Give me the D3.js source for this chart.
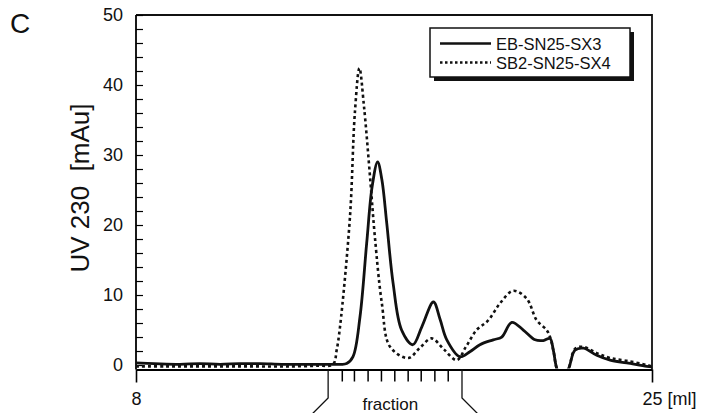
<!DOCTYPE html>
<html>
<head>
<meta charset="utf-8">
<script src="https://cdn.jsdelivr.net/npm/d3@7"></script>
<style>
  body { margin: 0; background: #fff; }
  text { font-family: "Liberation Sans", Arial, sans-serif; fill: #111; }
</style>
</head>
<body>
<svg class="svg"></svg>
<script>
// elution volume [ml]
let ebVolume = [8.0, 8.6, 9.45, 10.1, 10.77, 11.4, 12.09, 12.8, 13.4, 14.0, 14.72, 14.94, 15.15, 15.38, 15.6, 15.78, 15.96, 16.1, 16.26, 16.47, 16.75, 17.12, 17.42, 17.8, 18.02, 18.24, 18.67, 19.0, 19.33, 19.77, 20.05, 20.38, 20.76, 21.15, 21.42, 21.64, 21.75, 21.88, 22.03, 22.24, 22.46, 22.74, 23.18, 23.62, 24.17, 24.83, 25.0]
let ebUV = [0.3, 0.2, 0.1, 0.2, 0.1, 0.2, 0.2, 0.1, 0.1, 0.1, 0.1, 0.2, 1.2, 6.9, 17.4, 25.5, 29.0, 26.5, 20.3, 11.7, 5.0, 2.9, 5.5, 9.0, 6.5, 3.6, 1.2, 1.9, 2.9, 3.6, 4.0, 6.1, 5.0, 3.6, 3.5, 3.8, 2.1, -0.7, -1.5, -0.6, 2.1, 2.4, 1.4, 0.7, 0.3, -0.2, -0.3]

let sbVolume = [8.0, 9.0, 10.0, 11.0, 12.0, 13.0, 14.0, 14.49, 14.61, 14.72, 15.05, 15.21, 15.36, 15.51, 15.71, 15.87, 16.1, 16.37, 16.97, 17.36, 17.74, 18.15, 18.57, 18.87, 19.22, 19.61, 19.99, 20.43, 20.87, 21.2, 21.53, 21.64, 21.75, 21.88, 22.03, 22.24, 22.46, 22.74, 23.18, 23.62, 24.17, 24.83, 25.0]
let sbUV = [-0.2, -0.2, -0.2, -0.2, -0.2, -0.2, -0.1, 0.1, 2.1, 5.4, 21.2, 36.0, 42.4, 37.0, 26.9, 18.3, 8.8, 2.6, 1.0, 2.5, 3.8, 2.2, 0.7, 2.6, 5.0, 6.4, 8.8, 10.6, 9.5, 6.4, 5.0, 4.0, 2.1, -0.7, -1.5, -0.6, 2.3, 2.6, 1.7, 1.0, 0.6, 0.0, -0.2]

let seriesNames = ["EB-SN25-SX3", "SB2-SN25-SX4"]
let yTicks = [0, 10, 20, 30, 40, 50]
let xTicks = [8, 25]
let fractionTicks = [14.78, 15.18, 15.63, 16.07, 16.51, 16.95, 17.38, 17.83, 18.27]
let fractionBracket = [14.33, 18.74]

let drawChart = () => {
    let svg = d3.select(".svg").attr("width", 708).attr("height", 413)

    let x = d3.scaleLinear().domain([8, 25]).range([136, 652])
    let y = d3.scaleLinear().domain([-0.64, 50]).range([369.5, 15])
    let axisY = y(-0.64)

    svg.append("clipPath").attr("id", "plotclip")
        .append("rect")
        .attr("x", x(8)).attr("y", y(50))
        .attr("width", x(25) - x(8)).attr("height", axisY - y(50) - 1)

    // top and right frame
    svg.append("path")
        .attr("d", `M${x(8)},${y(50)}H${x(25)}V${axisY}`)
        .attr("fill", "none").attr("stroke", "#111").attr("stroke-width", 1.8)

    // y axis, ticks inside
    let yAxis = d3.axisLeft(y)
        .tickValues(d3.range(0, 51, 2))
        .tickSize(-7)
        .tickSizeOuter(0)
        .tickPadding(13)
        .tickFormat(d => yTicks.includes(d) ? d : "")
    let gy = svg.append("g").attr("transform", `translate(${x(8)},0)`).call(yAxis)
    gy.select(".domain").attr("d", `M0,${y(50)}V${axisY}`).attr("stroke-width", 1.8)
    gy.selectAll("line").attr("stroke-width", 1.2)
    gy.selectAll("text").style("font-size", "18px").attr("font-family", null)

    // x axis
    let xAxis = d3.axisBottom(x)
        .tickValues(xTicks)
        .tickSize(13)
        .tickSizeOuter(0)
        .tickPadding(10)
        .tickFormat(d => d === 25 ? "25 [ml]" : d)
    let gx = svg.append("g").attr("transform", `translate(0,${axisY})`).call(xAxis)
    gx.select(".domain").attr("stroke-width", 1.8)
    gx.selectAll("line").attr("stroke-width", 1.6)
    gx.selectAll("text").style("font-size", "18px").attr("font-family", null)
        .filter(d => d === 25).attr("text-anchor", "start").attr("dx", -10)

    // fraction ticks and bracket
    let fAxis = d3.axisBottom(x).tickValues(fractionTicks).tickSize(12).tickFormat("")
    let gf = svg.append("g").attr("transform", `translate(0,${axisY})`).call(fAxis)
    gf.select(".domain").remove()
    gf.selectAll("line").attr("stroke-width", 1.5)

    let bracket = d3.line()
    svg.append("path")
        .attr("d", bracket([[x(fractionBracket[0]), axisY], [x(fractionBracket[0]), 398], [x(fractionBracket[0]) - 16, 414]]))
        .attr("fill", "none").attr("stroke", "#111").attr("stroke-width", 1.3)
    svg.append("path")
        .attr("d", bracket([[x(fractionBracket[1]), axisY], [x(fractionBracket[1]), 398], [x(fractionBracket[1]) + 16, 414]]))
        .attr("fill", "none").attr("stroke", "#111").attr("stroke-width", 1.3)
    svg.append("text")
        .attr("x", x(16.38)).attr("y", 410)
        .attr("text-anchor", "middle")
        .style("font-size", "17px")
        .text("fraction")

    // curves
    let line = d3.line()
        .x(d => x(d[0]))
        .y(d => y(d[1]))
        .curve(d3.curveCatmullRom.alpha(0.5))
    let plot = svg.append("g").attr("clip-path", "url(#plotclip)")
    plot.append("path")
        .datum(d3.zip(sbVolume, sbUV))
        .attr("d", line)
        .attr("fill", "none").attr("stroke", "#111")
        .attr("stroke-width", 2.6).attr("stroke-dasharray", "3,3")
    plot.append("path")
        .datum(d3.zip(ebVolume, ebUV))
        .attr("d", line)
        .attr("fill", "none").attr("stroke", "#111")
        .attr("stroke-width", 2.8).attr("stroke-linejoin", "round")

    // legend box with shadow
    let legend = svg.append("g").attr("transform", "translate(430,28)")
    legend.append("rect").attr("x", 4).attr("y", 4).attr("width", 200).attr("height", 49).attr("fill", "#111")
    legend.append("rect").attr("width", 200).attr("height", 49)
        .attr("fill", "#fff").attr("stroke", "#111").attr("stroke-width", 1.5)
    legend.selectAll(".key")
        .data(seriesNames)
        .enter()
        .append("line")
        .attr("x1", 10).attr("x2", 61)
        .attr("y1", (d, i) => 15.5 + i * 19).attr("y2", (d, i) => 15.5 + i * 19)
        .attr("stroke", "#111")
        .attr("stroke-width", (d, i) => i === 0 ? 2.6 : 2.4)
        .attr("stroke-dasharray", (d, i) => i === 0 ? null : "2.5,2.5")
    legend.selectAll(".name")
        .data(seriesNames)
        .enter()
        .append("text")
        .attr("x", 66)
        .attr("y", (d, i) => 21.5 + i * 19)
        .style("font-size", "16.5px")
        .text(d => d)

    // axis title and panel letter
    svg.append("text")
        .attr("transform", "translate(89,188) rotate(-90)")
        .attr("text-anchor", "middle")
        .style("font-size", "26px")
        .style("white-space", "pre")
        .text("UV 230  [mAu]")
    svg.append("text")
        .attr("x", 10).attr("y", 33)
        .style("font-size", "28px")
        .text("C")
}

drawChart()
</script>
</body>
</html>
